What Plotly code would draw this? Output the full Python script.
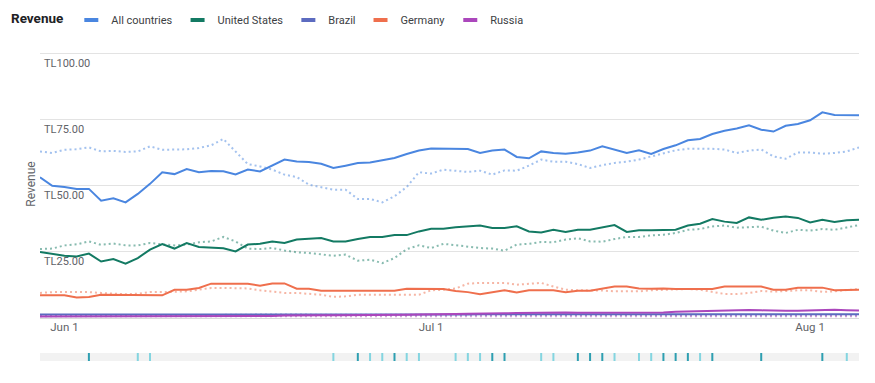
import pandas as pd
import plotly.graph_objects as go

# ---------------- data ----------------
start_date = "2023-05-30"
n_days = 68
dates = pd.date_range(start_date, periods=n_days, freq="D")

all_cur = [53.3, 50.1, 49.6, 48.9, 48.9, 44.4, 45.3, 43.8, 47.0, 50.8,
           55.2, 54.5, 56.4, 55.2, 55.7, 55.6, 54.4, 56.2, 55.5, 57.7,
           60.0, 59.3, 59.1, 58.4, 56.8, 57.7, 58.7, 58.9, 59.7, 60.6,
           62.1, 63.4, 64.2, 64.2, 64.2, 64.0, 62.5, 63.4, 63.8, 61.0,
           60.5, 63.1, 62.5, 62.2, 62.7, 63.4, 65.0, 63.8, 62.5, 63.5,
           62.1, 64.0, 65.4, 67.3, 67.8, 69.7, 70.9, 71.8, 73.0, 71.3,
           70.6, 72.8, 73.5, 74.9, 77.9, 76.9, 76.8, 76.8]
all_prev = [63.1, 62.5, 63.7, 63.9, 64.6, 63.1, 63.3, 62.9, 63.1, 65.0,
            63.7, 63.7, 63.9, 64.4, 65.4, 67.8, 62.9, 58.3, 57.4, 56.2,
            54.3, 53.4, 50.5, 49.6, 48.6, 48.6, 45.1, 45.1, 43.8, 46.1,
            49.6, 55.2, 54.7, 56.2, 55.8, 55.3, 55.8, 54.3, 55.9, 55.8,
            57.7, 60.0, 59.2, 59.2, 58.3, 56.8, 57.9, 58.7, 59.2, 60.0,
            61.2, 62.3, 63.5, 64.1, 64.2, 64.1, 63.8, 62.5, 63.4, 63.8,
            61.2, 60.3, 62.7, 62.7, 62.2, 62.5, 63.1, 64.6]
us_cur = [25.0, 24.4, 23.6, 23.3, 24.4, 21.4, 22.3, 20.6, 22.7, 25.9,
          28.0, 26.3, 28.4, 26.9, 26.6, 26.4, 25.2, 27.8, 28.1, 29.0,
          28.4, 29.7, 30.0, 30.3, 29.0, 29.0, 29.9, 30.7, 30.7, 31.4,
          31.4, 32.8, 33.8, 33.8, 34.4, 34.7, 35.0, 34.1, 34.1, 34.7,
          32.8, 32.4, 33.4, 32.6, 33.4, 33.4, 34.2, 35.2, 32.6, 33.2,
          33.2, 33.2, 33.4, 35.0, 35.7, 37.5, 36.5, 36.0, 38.1, 37.2,
          38.0, 38.4, 37.9, 36.2, 37.2, 36.4, 37.0, 37.2]
us_prev = [26.1, 26.3, 27.5, 27.9, 29.0, 27.7, 28.2, 27.5, 27.5, 28.4,
           27.9, 27.5, 27.8, 28.7, 29.0, 30.7, 29.0, 26.3, 26.1, 26.5,
           25.6, 24.9, 24.6, 24.0, 23.6, 24.0, 21.7, 22.1, 20.8, 22.7,
           26.1, 27.5, 26.5, 28.1, 27.6, 27.1, 26.5, 26.3, 25.5, 27.8,
           28.1, 28.8, 28.7, 29.7, 30.2, 29.0, 28.9, 29.9, 30.7, 30.7,
           31.3, 31.5, 32.2, 33.4, 33.7, 34.7, 35.0, 34.2, 34.3, 34.6,
           33.1, 32.2, 33.4, 33.1, 33.7, 33.4, 34.3, 35.2]
br_cur = [1.3, 1.3, 1.3, 1.2, 1.2, 1.3, 1.3, 1.2, 1.2, 1.2,
          1.3, 1.3, 1.3, 1.2, 1.2, 1.2, 1.1, 1.1, 1.1, 1.2,
          1.2, 1.2, 1.1, 1.1, 1.1, 1.2, 1.2, 1.2, 1.1, 1.1,
          1.1, 1.2, 1.2, 1.3, 1.3, 1.3, 1.4, 1.4, 1.4, 1.5,
          1.5, 1.5, 1.5, 1.5, 1.5, 1.5, 1.5, 1.4, 1.4, 1.4,
          1.4, 1.4, 1.4, 1.4, 1.3, 1.3, 1.3, 1.3, 1.3, 1.3,
          1.4, 1.4, 1.4, 1.4, 1.4, 1.4, 1.4, 1.4]
br_prev = [0.9, 0.9, 0.9, 0.9, 0.9, 0.9, 0.9, 0.9, 0.9, 0.9,
           0.9, 0.9, 0.9, 0.9, 0.9, 1.2, 1.3, 1.3, 1.3, 1.3,
           1.3, 1.3, 1.3, 1.3, 1.3, 1.3, 1.3, 1.3, 1.3, 1.3,
           1.2, 1.2, 1.2, 1.2, 1.2, 1.2, 1.1, 1.1, 1.1, 1.1,
           1.1, 1.1, 1.1, 1.1, 1.1, 1.1, 1.1, 1.1, 1.1, 1.1,
           1.0, 1.0, 1.0, 1.0, 1.0, 1.0, 1.0, 1.0, 1.0, 1.0,
           1.0, 1.0, 1.0, 1.0, 1.0, 1.0, 1.0, 1.0]
de_cur = [8.6, 8.5, 8.6, 7.8, 8.0, 8.8, 8.8, 8.8, 8.8, 8.8,
          8.6, 10.7, 10.7, 11.4, 13.0, 13.0, 13.0, 13.0, 12.2, 13.1,
          13.1, 11.1, 11.1, 10.3, 10.3, 10.3, 10.3, 10.3, 10.3, 10.3,
          11.1, 11.1, 10.9, 11.0, 10.2, 9.8, 9.0, 9.8, 10.5, 9.7,
          10.5, 10.5, 10.5, 9.8, 10.3, 10.3, 11.2, 11.9, 11.9, 11.2,
          11.1, 11.2, 11.0, 11.0, 11.0, 11.0, 11.9, 11.9, 11.9, 11.9,
          10.7, 10.7, 11.5, 11.5, 11.5, 10.5, 10.5, 10.7]
de_prev = [9.5, 9.8, 9.8, 9.8, 9.8, 9.5, 9.2, 9.0, 9.2, 9.8,
           9.8, 9.9, 10.1, 10.7, 11.4, 11.4, 11.4, 11.2, 10.5, 10.1,
           9.5, 9.5, 9.1, 8.8, 8.0, 8.2, 8.8, 8.8, 8.8, 8.6,
           8.6, 8.8, 10.5, 10.7, 11.2, 13.0, 13.3, 13.3, 13.3, 12.6,
           13.0, 13.3, 11.9, 10.7, 10.5, 10.5, 10.4, 10.1, 10.1, 10.1,
           10.5, 10.7, 11.0, 11.0, 10.7, 9.8, 9.1, 9.1, 9.5, 10.2,
           10.0, 10.2, 10.5, 10.5, 9.9, 10.1, 10.5, 11.0]
ru_cur = [0.6, 0.6, 0.6, 0.6, 0.6, 0.6, 0.6, 0.6, 0.6, 0.6,
          0.6, 0.6, 0.6, 0.6, 0.6, 0.6, 0.6, 0.6, 0.7, 0.8,
          0.9, 1.0, 1.0, 1.0, 1.0, 1.0, 1.0, 1.0, 1.1, 1.1,
          1.2, 1.3, 1.3, 1.4, 1.5, 1.6, 1.6, 1.7, 1.8, 1.9,
          2.0, 2.1, 2.1, 2.1, 2.0, 2.0, 2.1, 2.0, 2.0, 1.9,
          1.9, 2.1, 2.4, 2.5, 2.6, 2.9, 3.0, 3.1, 3.0, 2.9,
          2.7, 2.7, 2.7, 2.8, 2.9, 3.1, 2.9, 2.8]
ru_prev = [0.7] * n_days

series_names = ["All countries", "United States", "Brazil", "Germany", "Russia"]
series_colors = ["#4a86e0", "#137a63", "#5c6bc0", "#ef6f4d", "#ab47bc"]

# event annotations (day index from start date)
events_major = [4, 26, 29, 37, 38, 44, 45, 46, 51, 52, 53, 55, 59, 64]
events_minor = [8, 9, 24, 27, 28, 30, 31, 34, 35, 36, 41, 42, 47, 49, 50, 54, 66]

y_tick_vals = [25, 50, 75, 100]
y_tick_text = ["TL25.00", "TL50.00", "TL75.00", "TL100.00"]
x_tick_vals = ["2023-06-01", "2023-07-01", "2023-08-01"]
x_tick_text = ["Jun 1", "Jul 1", "Aug 1"]

# ---------------- figure ----------------
fig = go.Figure()

cur_series = [all_cur, us_cur, br_cur, de_cur, ru_cur]
prev_series = [all_prev, us_prev, br_prev, de_prev, ru_prev]

order = [2, 4, 3, 1, 0]
for k in order:
    fig.add_trace(go.Scatter(
        x=dates, y=prev_series[k], mode="lines", showlegend=False,
        line=dict(color=series_colors[k], width=2, dash="2px,3px"),
        opacity=0.5, hoverinfo="skip", xaxis="x", yaxis="y"))
for k in order:
    fig.add_trace(go.Scatter(
        x=dates, y=cur_series[k], mode="lines", showlegend=False,
        line=dict(color=series_colors[k], width=2),
        name=series_names[k], xaxis="x", yaxis="y"))

# legend entries (short pill symbols)
for name, col in zip(series_names, series_colors):
    fig.add_trace(go.Scatter(
        x=[None], y=[None], mode="markers", name=name, showlegend=True,
        marker=dict(symbol="line-ew", size=10, color=col,
                    line=dict(color=col, width=4)),
        xaxis="x", yaxis="y"))

# event strip
tick_w = 2 / 12.2 * 86400000
fig.add_trace(go.Bar(
    x=[dates[i] for i in events_major], y=[1] * len(events_major),
    width=tick_w, marker=dict(color="#2e9fb1", line=dict(width=0)),
    showlegend=False, xaxis="x2", yaxis="y2", hoverinfo="x"))
fig.add_trace(go.Bar(
    x=[dates[i] for i in events_minor], y=[1] * len(events_minor),
    width=tick_w, marker=dict(color="#84d5e0", line=dict(width=0)),
    showlegend=False, xaxis="x2", yaxis="y2", hoverinfo="x"))

W, H = 875, 383
mt, mb, ml, mr = 50, 22, 40, 16
ph = H - mt - mb
main_bottom = (361 - 318) / ph
strip_top = (361 - 353) / ph

fig.update_layout(
    width=W, height=H,
    margin=dict(l=ml, r=mr, t=mt, b=mb, autoexpand=False),
    paper_bgcolor="white", plot_bgcolor="white",
    font=dict(family="Roboto, Arial, sans-serif", size=12, color="#5f6368"),
    barmode="overlay",
    xaxis=dict(
        domain=[0, 1], anchor="y",
        range=[dates[0], dates[-1]],
        tickvals=x_tick_vals, ticktext=x_tick_text,
        showgrid=False, zeroline=False, showline=False, ticks="",
        tickfont=dict(size=11.5, color="#5f6368"),
    ),
    yaxis=dict(
        domain=[main_bottom, 1], anchor="x",
        range=[0, 101.5],
        tickvals=y_tick_vals, ticktext=y_tick_text,
        ticklabelposition="inside", ticklabelshift=9, ticklabelstandoff=1,
        ticklabeloverflow="allow",
        gridcolor="#e3e3e3", gridwidth=1,
        zeroline=True, zerolinecolor="#dadada", zerolinewidth=1,
        showline=False, ticks="",
        tickfont=dict(size=11, color="#5f6368"),
        title=dict(text="Revenue", standoff=5,
                   font=dict(size=12, color="#5f6368")),
    ),
    xaxis2=dict(domain=[0, 1], anchor="y2", matches="x", visible=False),
    yaxis2=dict(domain=[0, strip_top], anchor="x2", range=[0, 1], visible=False),
    shapes=[dict(type="rect", xref="x2 domain", yref="y2 domain",
                 x0=0, x1=1, y0=0, y1=1, fillcolor="#f2f2f2",
                 line=dict(width=0), layer="below")],
    legend=dict(
        orientation="h", xref="container", yref="container",
        x=9 / W, xanchor="left",
        y=1 - 20 / H, yanchor="middle",
        title=dict(text="<b>Revenue</b>", side="left",
                   font=dict(size=13.5, color="#202124")),
        font=dict(size=11, color="#3c4043"),
        itemwidth=30, bgcolor="rgba(0,0,0,0)",
    ),
    showlegend=True,
)

fig.write_html("out.html", config={"displayModeBar": False},
               post_script="document.body.style.margin='0px';")
